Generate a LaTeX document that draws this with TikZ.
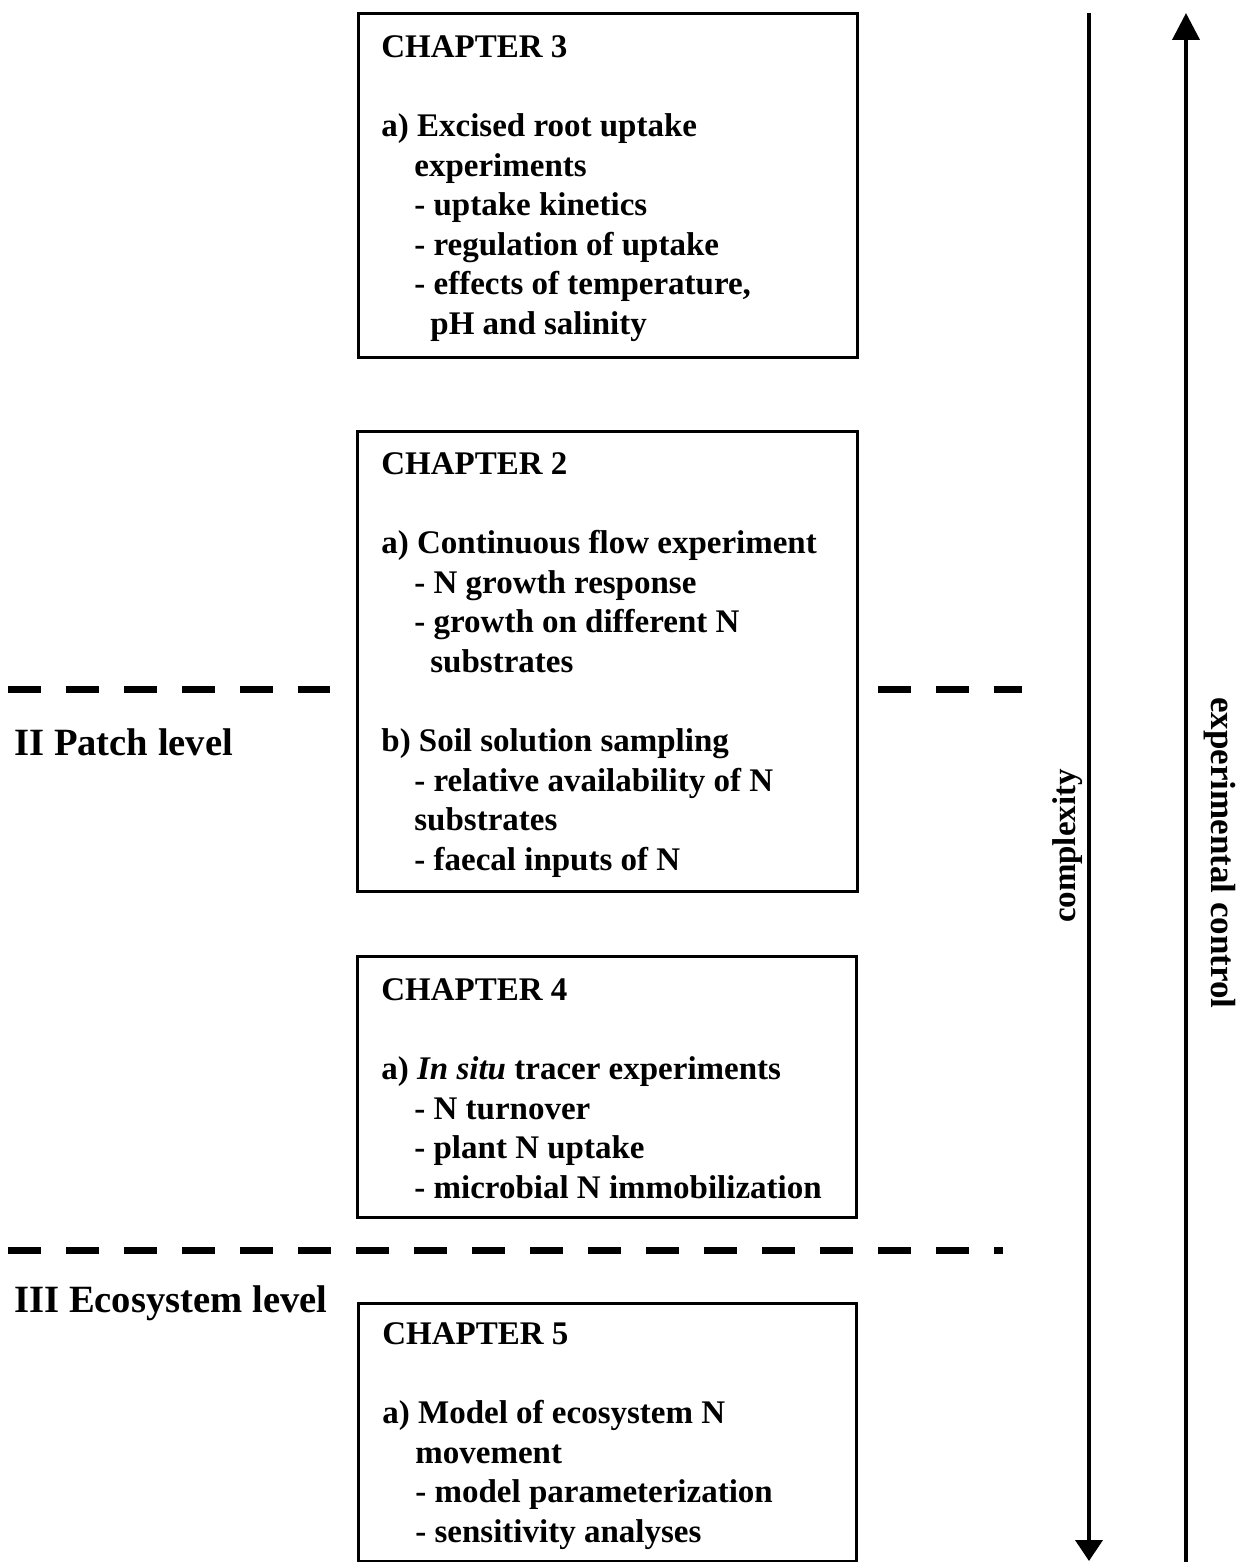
\documentclass[tikz,border=0pt]{standalone}
\usepackage{fontspec}
\setmainfont{Liberation Serif}
\usetikzlibrary{arrows.meta,positioning}

\newcommand{\ind}{\hspace*{16.5pt}}
\newcommand{\indd}{\hspace*{24.5pt}}

\tikzset{
  chapbox/.style={draw, line width=1.4pt, inner sep=0pt, anchor=north west},
  chaptext/.style={inner sep=0pt, align=left,
    font=\fontsize{16.5}{19.8}\selectfont\bfseries},
  levellabel/.style={inner sep=0pt, anchor=base west,
    font=\fontsize{19.3}{23}\selectfont\bfseries},
  sidelabel/.style={inner sep=0pt, anchor=base,
    font=\fontsize{16.5}{19.8}\selectfont\bfseries},
  levelline/.style={line width=3.5pt, dash pattern=on 16.5pt off 12.5pt},
  axisline/.style={line width=2pt}
}

\begin{document}
\begin{tikzpicture}[x=0.5pt, y=-0.5pt]
 \useasboundingbox (0,0) rectangle (1238,1562);

 % chapter boxes
 \node[chapbox, minimum width=249.5pt, minimum height=172pt] (box3) at (357,12) {};
 \node[chapbox, minimum width=250pt, minimum height=230pt] (box2) at (356,430) {};
 \node[chapbox, minimum width=249.5pt, minimum height=130.5pt] (box4) at (356,955) {};
 \node[chapbox, minimum width=249pt, minimum height=129pt] (box5) at (357,1302) {};

 \node[chaptext, below right=11.5pt and 12pt of box3.north west] (text3) {CHAPTER 3\\[19.8pt]
  a) Excised root uptake\\
  \ind experiments\\
  \ind - uptake kinetics\\
  \ind - regulation of uptake\\
  \ind - effects of temperature,\\
  \indd pH and salinity};
 \node[chaptext, below right=11pt and 12.5pt of box2.north west] (text2) {CHAPTER 2\\[19.8pt]
  a) Continuous flow experiment\\
  \ind - N growth response\\
  \ind - growth on different N\\
  \indd substrates\\[19.8pt]
  b) Soil solution sampling\\
  \ind - relative availability of N\\
  \ind substrates\\
  \ind - faecal inputs of N};
 \node[chaptext, below right=11.5pt and 12.5pt of box4.north west] (text4) {CHAPTER 4\\[19.8pt]
  a) \textit{In situ} tracer experiments\\
  \ind - N turnover\\
  \ind - plant N uptake\\
  \ind - microbial N immobilization};
 \node[chaptext, below right=10pt and 12.5pt of box5.north west] (text5) {CHAPTER 5\\[19.8pt]
  a) Model of ecosystem N\\
  \ind movement\\
  \ind - model parameterization\\
  \ind - sensitivity analyses};

 % levels
 \draw[levelline] (8,689) -- (330,689);
 \draw[levelline] (878,689) -- (1022,689);
 \draw[levelline] (8,1250) -- (1003,1250);
 \node[levellabel] (patch) at (14,755) {II Patch level};
 \node[levellabel] (ecosys) at (14,1312) {III Ecosystem level};

 % axes
 \coordinate (cxtop) at (1089,13);
 \coordinate (cxbot) at (1089,1561);
 \coordinate (ectop) at (1186,13);
 \coordinate (ecbot) at (1186,1562);
 \draw[axisline, -{Triangle[width=13.5pt,length=10.5pt]}] (cxtop) -- (cxbot);
 \draw[axisline, -{Triangle[width=13.5pt,length=13.5pt]}] (ecbot) -- (ectop);
 \node[sidelabel, rotate=90] (cplx) at (1075,846) {complexity};
 \node[sidelabel, rotate=-90, font=\fontsize{17.5}{21}\selectfont\bfseries] (expc) at (1211,853) {experimental control};
\end{tikzpicture}
\end{document}
